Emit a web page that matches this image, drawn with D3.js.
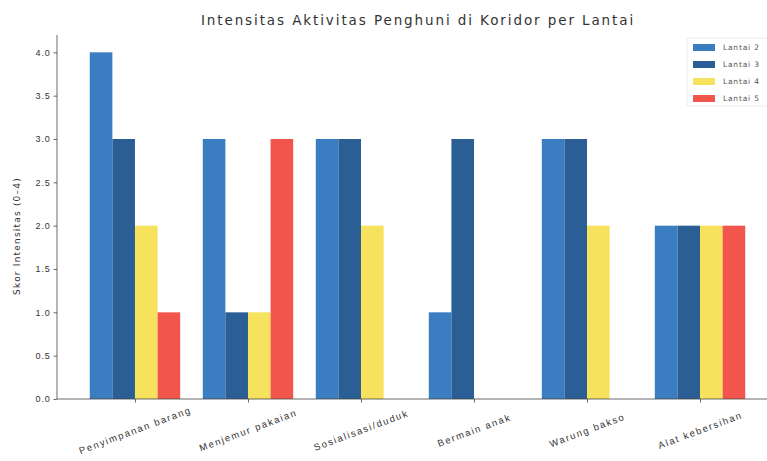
<!DOCTYPE html>
<html>
<head>
<meta charset="utf-8">
<script src="https://cdn.jsdelivr.net/npm/d3@7"></script>
<style>
  html, body { margin: 0; padding: 0; background: #fff; overflow: hidden; }
  svg { display: block; font-family: "DejaVu Sans", sans-serif; }
</style>
</head>
<body>
<div id="chart"></div>
<script>
// Activity categories observed in the corridor
const categories = ["Penyimpanan barang", "Menjemur pakaian", "Sosialisasi/duduk", "Bermain anak", "Warung bakso", "Alat kebersihan"];
// One series per floor
const floors = ["Lantai 2", "Lantai 3", "Lantai 4", "Lantai 5"];
const lantai2 = [4, 3, 3, 1, 3, 2];
const lantai3 = [3, 1, 3, 3, 3, 2];
const lantai4 = [2, 1, 2, 0, 2, 2];
const lantai5 = [1, 3, 0, 0, 0, 2];
const yTicks = [0, 0.5, 1, 1.5, 2, 2.5, 3, 3.5, 4];
const colors = ["#3a7dc0", "#2b5e94", "#f6e25c", "#f2554c"];

const seriesValues = [lantai2, lantai3, lantai4, lantai5];

const W = 800, H = 461;
const margin = { left: 57, right: 22, top: 35, bottom: 62 };
const plotW = W - margin.left - margin.right;
const plotH = H - margin.top - margin.bottom;

const svg = d3.select("#chart").append("svg").attr("width", W).attr("height", H);
const g = svg.append("g").attr("transform", `translate(${margin.left},${margin.top})`);

// Continuous x in category units, padded like the default plotting margins
const n = categories.length;
const barW = 0.2;
const x = d3.scaleLinear().domain([-0.69, n - 1 + 0.69]).range([0, plotW]);
const y = d3.scaleLinear().domain([0, 4.2]).range([plotH, 0]);

// Bars
seriesValues.forEach((vals, si) => {
  g.selectAll(".bar" + si)
    .data(vals)
    .enter().append("rect")
    .attr("x", (d, i) => x(i + (si - 1.5) * barW - barW / 2))
    .attr("width", x(barW) - x(0))
    .attr("y", d => y(d))
    .attr("height", d => y(0) - y(d))
    .attr("fill", colors[si]);
});

// Y axis
const yAxis = d3.axisLeft(y).tickValues(yTicks).tickFormat(d3.format(".1f")).tickSize(3.5).tickPadding(3);
const ya = g.append("g").call(yAxis);
ya.select(".domain").attr("stroke", "#444").attr("stroke-width", 0.8).attr("d", `M0,0V${plotH}`);
ya.selectAll(".tick line").attr("stroke", "#444").attr("stroke-width", 0.8);
ya.selectAll(".tick text").attr("font-size", 9).attr("letter-spacing", 0.8).attr("fill", "#333");

// X axis
const xAxis = d3.axisBottom(x).tickValues(d3.range(n)).tickFormat(i => categories[i]).tickSize(3.5).tickPadding(3);
const xa = g.append("g").attr("transform", `translate(0,${plotH})`).call(xAxis);
xa.select(".domain").attr("stroke", "#444").attr("stroke-width", 0.8).attr("d", `M0,0H${plotW}`);
xa.selectAll(".tick line").attr("stroke", "#444").attr("stroke-width", 0.8);
xa.selectAll(".tick text")
  .attr("font-size", 9.5).attr("letter-spacing", 1.6).attr("fill", "#333")
  .attr("text-anchor", "middle")
  .attr("dy", null).attr("y", 0)
  .attr("transform", "translate(0,32) rotate(-20.5)")
  .attr("dominant-baseline", "middle");

// Axis title
svg.append("text")
  .attr("transform", `translate(20,236) rotate(-90)`)
  .attr("text-anchor", "middle")
  .attr("font-size", 9).attr("letter-spacing", 1.2).attr("fill", "#333")
  .text("Skor Intensitas (0–4)");

// Chart title
svg.append("text")
  .attr("x", 418).attr("y", 25)
  .attr("text-anchor", "middle")
  .attr("font-size", 13.5).attr("letter-spacing", 1.9).attr("fill", "#333")
  .text("Intensitas Aktivitas Penghuni di Koridor per Lantai");

// Legend
const lg = svg.append("g").attr("transform", "translate(687,38)");
lg.append("rect").attr("x", 0).attr("y", 0).attr("width", 120).attr("height", 68)
  .attr("fill", "#fff").attr("fill-opacity", 0.8).attr("stroke", "#e4e4e4").attr("stroke-width", 0.8).attr("rx", 2);
floors.forEach((f, i) => {
  const row = lg.append("g").attr("transform", `translate(6,${9 + i * 17})`);
  row.append("rect").attr("x", 0).attr("y", -3).attr("width", 22).attr("height", 7).attr("fill", colors[i]);
  row.append("text").attr("x", 30).attr("y", 0.5).attr("dominant-baseline", "middle")
    .attr("font-size", 7.5).attr("letter-spacing", 0.8).attr("fill", "#555").text(f);
});
</script>
</body>
</html>
